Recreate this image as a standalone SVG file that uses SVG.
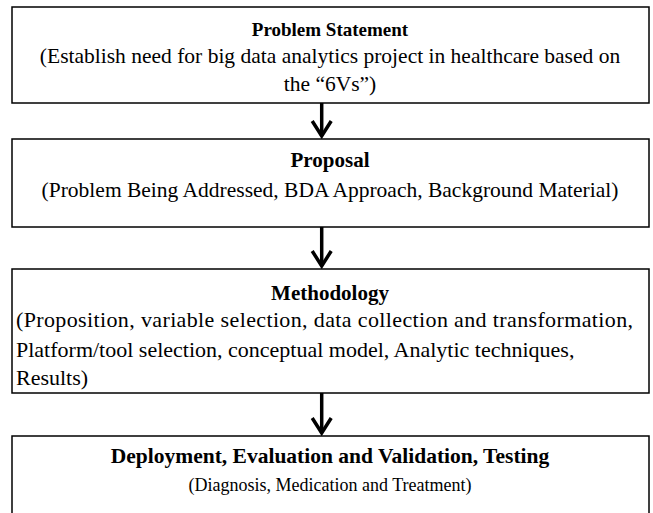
<svg xmlns="http://www.w3.org/2000/svg" width="653" height="513" viewBox="0 0 653 513">
  <style>
    .box { fill: #ffffff; stroke: #000000; stroke-width: 1.5; }
    .shaft { stroke: #000000; stroke-width: 3.5; fill: none; }
    .head { stroke: #000000; stroke-width: 3.5; fill: none; stroke-linejoin: miter; stroke-linecap: butt; }
  </style>
  <rect width="653" height="513" fill="#ffffff"/>

  <g id="connectors">
    <g id="arrow-1">
      <line class="shaft" x1="321.7" y1="103" x2="321.7" y2="136"/>
      <polyline class="head" points="312.2,121 321.7,136 331.2,121"/>
    </g>
    <g id="arrow-2">
      <line class="shaft" x1="321.7" y1="227" x2="321.7" y2="266"/>
      <polyline class="head" points="312.2,251 321.7,266 331.2,251"/>
    </g>
    <g id="arrow-3">
      <line class="shaft" x1="321.7" y1="393" x2="321.7" y2="433"/>
      <polyline class="head" points="312.2,418 321.7,433 331.2,418"/>
    </g>
  </g>

  <g font-family="'Liberation Serif', 'Times New Roman', serif" fill="#000000">
    <g id="problem-statement">
      <rect class="box" x="12" y="7" width="637" height="96"/>
      <text x="330" y="36" font-size="19" font-weight="bold" text-anchor="middle">Problem Statement</text>
      <text x="330" y="63" font-size="21.5" text-anchor="middle">(Establish need for big data analytics project in healthcare based on</text>
      <text x="330" y="91" font-size="21.5" text-anchor="middle">the “6Vs”)</text>
    </g>

    <g id="proposal">
      <rect class="box" x="12" y="139" width="637" height="88"/>
      <text x="330" y="167" font-size="21" font-weight="bold" text-anchor="middle">Proposal</text>
      <text x="330" y="197" font-size="21.5" text-anchor="middle">(Problem Being Addressed, BDA Approach, Background Material)</text>
    </g>

    <g id="methodology">
      <rect class="box" x="12" y="269" width="637" height="124"/>
      <text x="330" y="300" font-size="21" font-weight="bold" text-anchor="middle">Methodology</text>
      <!-- first line is justified to the right margin -->
      <text x="16" y="327" font-size="22" textLength="617" lengthAdjust="spacing">(Proposition, variable selection, data collection and transformation,</text>
      <text x="16" y="357" font-size="22">Platform/tool selection, conceptual model, Analytic techniques,</text>
      <text x="16" y="385" font-size="22">Results)</text>
    </g>

    <g id="deployment">
      <rect class="box" x="12" y="436" width="637" height="90"/>
      <text x="330" y="463" font-size="21.5" font-weight="bold" text-anchor="middle">Deployment, Evaluation and Validation, Testing</text>
      <text x="330" y="491" font-size="18" text-anchor="middle">(Diagnosis, Medication and Treatment)</text>
    </g>
  </g>
</svg>
